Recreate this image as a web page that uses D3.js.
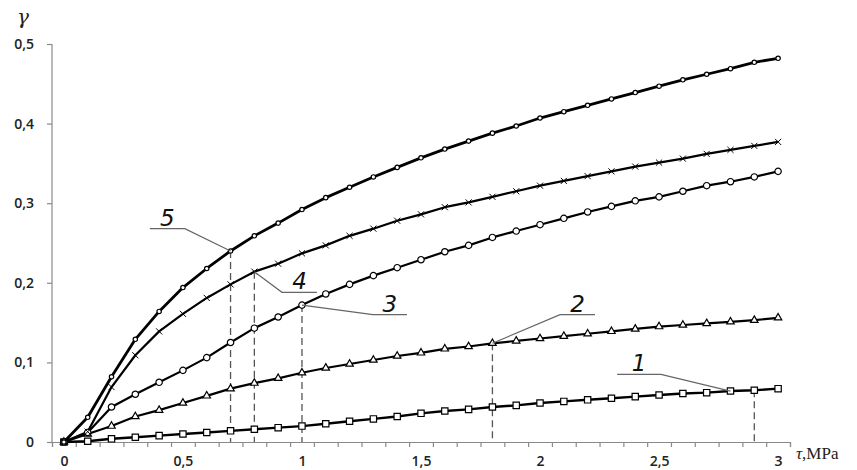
<!DOCTYPE html>
<html>
<head>
<meta charset="utf-8">
<script src="https://d3js.org/d3.v7.min.js"></script>
<style>
  body { margin: 0; background: #fff; }
</style>
</head>
<body>
<svg id="viz" width="857" height="470"></svg>

<script>
// shear stress, MPa (categories on the x axis)
var tau = [0, 0.1, 0.2, 0.3, 0.4, 0.5, 0.6, 0.7, 0.8, 0.9, 1.0,
           1.1, 1.2, 1.3, 1.4, 1.5, 1.6, 1.7, 1.8, 1.9, 2.0,
           2.1, 2.2, 2.3, 2.4, 2.5, 2.6, 2.7, 2.8, 2.9, 3.0];

// shear strain for curves 1..5
var gamma1 = [0, 0.001, 0.004, 0.006, 0.008, 0.010, 0.012, 0.014, 0.016, 0.018, 0.020,
              0.023, 0.026, 0.029, 0.032, 0.036, 0.039, 0.041, 0.044, 0.046, 0.049,
              0.051, 0.053, 0.055, 0.057, 0.059, 0.061, 0.062, 0.064, 0.065, 0.067];
var gamma2 = [0, 0.010, 0.020, 0.032, 0.040, 0.049, 0.058, 0.067, 0.074, 0.080, 0.087,
              0.093, 0.098, 0.103, 0.108, 0.112, 0.117, 0.120, 0.124, 0.127, 0.130,
              0.133, 0.136, 0.139, 0.142, 0.145, 0.147, 0.149, 0.151, 0.153, 0.156];
var gamma3 = [0, 0.012, 0.044, 0.060, 0.075, 0.090, 0.106, 0.125, 0.143, 0.157, 0.172,
              0.186, 0.198, 0.209, 0.219, 0.229, 0.239, 0.247, 0.257, 0.265, 0.273,
              0.281, 0.289, 0.296, 0.303, 0.308, 0.315, 0.322, 0.327, 0.333, 0.340];
var gamma4 = [0, 0.013, 0.069, 0.109, 0.139, 0.161, 0.181, 0.198, 0.214, 0.224, 0.237,
              0.247, 0.259, 0.268, 0.278, 0.286, 0.295, 0.301, 0.308, 0.315, 0.322,
              0.328, 0.334, 0.340, 0.346, 0.351, 0.356, 0.362, 0.367, 0.372, 0.377];
var gamma5 = [0, 0.031, 0.082, 0.129, 0.164, 0.194, 0.218, 0.240, 0.259, 0.275, 0.292,
              0.307, 0.320, 0.333, 0.345, 0.357, 0.368, 0.378, 0.388, 0.397, 0.407,
              0.415, 0.423, 0.431, 0.439, 0.447, 0.455, 0.462, 0.469, 0.477, 0.482];

var xTickValues = [0, 0.5, 1, 1.5, 2, 2.5, 3];
var xTickLabels = ["0", "0,5", "1", "1,5", "2", "2,5", "3"];
var yTickValues = [0, 0.1, 0.2, 0.3, 0.4, 0.5];
var yTickLabels = ["0", "0,1", "0,2", "0,3", "0,4", "0,5"];

// curve number labels: name, index of the point they mark, elbow (tau, gamma), line end tau
var curveNames = ["1", "2", "3", "4", "5"];
var markIndex = [28, 18, 10, 8, 7];
var elbowTau = [2.508, 2.084, 1.298, 0.916, 0.508];
var elbowGamma = [0.085, 0.160, 0.160, 0.188, 0.268];
var endTau = [2.324, 2.231, 1.441, 1.063, 0.361];
// dashed drop lines: index of the point on each curve
var dropIndex = [29, 18, 10, 8, 7];

var series = [gamma1, gamma2, gamma3, gamma4, gamma5];

var svg = d3.select("#viz");

var x = d3.scaleLinear().domain([-0.05, 3.05]).range([52, 790]);
var y = d3.scaleLinear().domain([0, 0.5]).range([442, 44]);

// x axis: tick marks between categories, labels on categories
var minorTicks = d3.range(32).map(function(i) { return -0.05 + i * 0.1; });
var gx = svg.append("g").attr("transform", "translate(0,442)");
gx.call(d3.axisBottom(x).tickValues(minorTicks).tickSize(5).tickFormat(""));
gx.select(".domain").attr("stroke", "#8a8a8a").attr("stroke-width", 1.2);
gx.selectAll(".tick line").attr("stroke", "#8a8a8a").attr("stroke-width", 1.2);

var gxl = svg.append("g").attr("transform", "translate(0,442)");
gxl.call(d3.axisBottom(x).tickValues(xTickValues).tickSize(0).tickPadding(14)
    .tickFormat(function(d, i) { return xTickLabels[i]; }));
gxl.select(".domain").remove();
gxl.selectAll("text").attr("font-size", 14).attr("fill", "#222")
    .attr("font-weight", 600).attr("font-family", "'Open Sans', sans-serif");

var gy = svg.append("g").attr("transform", "translate(52,0)");
gy.call(d3.axisLeft(y).tickValues(yTickValues).tickSize(5).tickPadding(13)
    .tickFormat(function(d, i) { return yTickLabels[i]; }));
gy.select(".domain").attr("stroke", "#8a8a8a").attr("stroke-width", 1.2)
    .attr("d", "M0," + y(0.5) + "V" + y(0) );
gy.selectAll(".tick line").attr("stroke", "#8a8a8a").attr("stroke-width", 1.2);
gy.selectAll("text").attr("font-size", 14).attr("fill", "#222")
    .attr("font-weight", 600).attr("font-family", "'Open Sans', sans-serif");

// axis titles
svg.append("text").attr("x", 17).attr("y", 24)
    .attr("font-family", "'DejaVu Serif', serif").attr("font-style", "italic")
    .attr("font-size", 20).attr("fill", "#222").text("γ");
var tt = svg.append("text").attr("x", 796).attr("y", 459)
    .attr("font-family", "'Liberation Serif', serif").attr("font-size", 17).attr("fill", "#222");
tt.append("tspan").attr("font-style", "italic").text("τ");
tt.append("tspan").text(",MPa");

// dashed drop lines
svg.append("g").selectAll("line").data(dropIndex).join("line")
    .attr("x1", function(k) { return x(tau[k]); })
    .attr("x2", function(k) { return x(tau[k]); })
    .attr("y1", function(k, i) { return y(series[i][k]); })
    .attr("y2", y(0))
    .attr("stroke", "#555").attr("stroke-width", 1.3).attr("stroke-dasharray", "7,4");

// curves
var lineWidth = [2.4, 2.2, 2.2, 2.2, 2.8];
var line = d3.line().x(function(d, i) { return x(tau[i]); }).y(function(d) { return y(d); });
svg.append("g").selectAll("path").data(series).join("path")
    .attr("d", line).attr("fill", "none").attr("stroke", "#000")
    .attr("stroke-width", function(d, i) { return lineWidth[i]; })
    .attr("stroke-linejoin", "round");

// markers
var symbolOf = [d3.symbolSquare, d3.symbolTriangle, d3.symbolCircle, d3.symbolX, d3.symbolCircle];
var symbolSize = [40, 24, 32, 26, 15];
series.forEach(function(s, si) {
  svg.append("g").selectAll("path").data(s).join("path")
    .attr("transform", function(d, i) { return "translate(" + x(tau[i]) + "," + y(d) + ")"; })
    .attr("d", d3.symbol().type(symbolOf[si]).size(symbolSize[si]))
    .attr("fill", si === 3 ? "none" : "#fff")
    .attr("stroke", "#000")
    .attr("stroke-width", si === 3 ? 1 : 1.2);
});

// curve number leaders
var lg = svg.append("g");
curveNames.forEach(function(name, i) {
  var k = markIndex[i];
  var px = x(tau[k]), py = y(series[i][k]);
  var ex = x(elbowTau[i]), ey = y(elbowGamma[i]);
  var fx = x(endTau[i]);
  lg.append("path")
    .attr("d", "M" + px + "," + py + "L" + ex + "," + ey + "L" + fx + "," + ey)
    .attr("fill", "none").attr("stroke", "#666").attr("stroke-width", 1.2);
  lg.append("text")
    .attr("x", (ex + fx) / 2).attr("y", ey - 3)
    .attr("text-anchor", "middle")
    .attr("font-family", "'DejaVu Sans', sans-serif").attr("font-style", "italic")
    .attr("font-weight", 300)
    .attr("font-size", 23).attr("fill", "#111")
    .text(name);
});
</script>
</body>
</html>
